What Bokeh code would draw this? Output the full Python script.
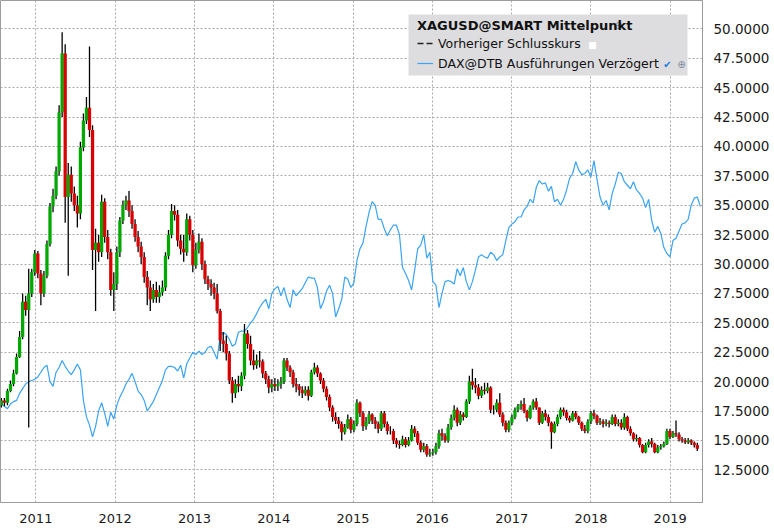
import pandas as pd
from bokeh.plotting import figure
from bokeh.models import (Range1d, FixedTicker, DatetimeTickFormatter, NumeralTickFormatter,
                          Legend, LegendItem, Label, BoxAnnotation)
from bokeh.embed import file_html
from bokeh.resources import INLINE

# ---------------- data ----------------
period_start = "2010-07-26"      # first candle, two-week candles
silver_first_open = 18.0
silver_close = [
    18.4, 18.2, 19.2, 19.8, 20.7, 22.1, 23.8, 26.8, 26.1, 27.5,
    29.3, 30.9, 29.2, 27.5, 29.0, 31.7, 34.9, 35.8, 37.9, 42.9,
    47.9, 35.7, 37.6, 36.0, 35.0, 34.3, 39.9, 42.2, 43.3, 41.4,
    31.2, 31.8, 31.0, 35.3, 32.3, 31.0, 27.8, 28.3, 31.0, 33.7,
    35.0, 35.4, 34.5, 33.4, 32.3, 31.5, 30.6, 28.9, 28.0, 27.0,
    27.8, 27.2, 27.6, 28.0, 30.7, 32.5, 34.5, 34.2, 32.0, 31.3,
    31.0, 33.8, 32.5, 29.9, 31.2, 31.9, 30.0, 28.7, 28.3, 28.0,
    27.5, 26.0, 23.5, 23.2, 22.4, 20.1, 19.0, 19.8, 19.6, 20.5,
    24.1, 23.2, 21.8, 21.4, 21.8, 21.7, 20.7, 20.2, 19.5, 19.8,
    19.6, 19.8, 20.0, 21.8, 21.2, 20.8, 19.8, 19.6, 19.3, 19.0,
    19.3, 18.8, 20.8, 21.2, 20.7, 20.1, 19.4, 18.7, 17.8, 17.0,
    16.7, 16.4, 15.7, 16.1, 16.8, 15.9, 16.4, 18.2, 17.3, 16.2,
    16.6, 17.2, 16.7, 16.4, 16.0, 17.3, 16.4, 15.8, 15.8, 15.0,
    14.7, 14.6, 15.1, 14.6, 15.0, 16.0, 15.6, 14.8, 14.2, 14.5,
    13.8, 13.9, 14.0, 14.5, 15.6, 15.4, 15.0, 16.1, 16.9, 17.6,
    16.5, 17.2, 17.0, 18.3, 20.0, 19.7, 19.5, 18.8, 19.3, 19.2,
    19.5, 17.6, 17.6, 18.2, 17.2, 16.5, 15.9, 16.5, 17.0, 17.6,
    17.9, 18.1, 17.5, 16.9, 17.8, 18.3, 17.8, 16.5, 17.3, 17.0,
    16.5, 15.7, 16.4, 17.0, 17.6, 17.4, 16.9, 16.7, 17.3, 17.0,
    16.5, 16.0, 15.8, 16.6, 17.3, 17.1, 16.5, 16.6, 16.4, 16.5,
    16.4, 17.0, 16.4, 16.5, 16.1, 17.0, 16.0, 15.6, 15.1, 15.2,
    14.6, 14.0, 14.6, 14.9, 14.7, 14.0, 14.4, 14.5, 14.7, 15.8,
    15.3, 15.6, 15.5, 15.1, 15.0, 14.85, 15.0, 14.8, 14.6, 14.3,
]
silver_high = [
    18.6, 18.6, 19.4, 20.1, 21.0, 22.4, 24.3, 27.5, 27.3, 29.6,
    29.6, 31.2, 31.1, 29.5, 29.4, 32.0, 35.2, 36.4, 38.3, 43.5,
    49.7, 48.7, 38.6, 38.3, 36.6, 35.8, 40.4, 42.8, 44.2, 48.5,
    41.8, 33.0, 32.5, 35.9, 35.6, 32.9, 31.3, 29.3, 31.5, 34.0,
    35.4, 35.8, 36.2, 35.0, 33.8, 32.8, 31.9, 31.0, 29.4, 28.6,
    28.3, 28.5, 28.2, 28.6, 31.0, 32.9, 35.1, 35.0, 34.6, 32.5,
    32.5, 34.3, 34.1, 32.9, 31.8, 32.6, 32.2, 30.3, 29.0, 28.7,
    28.4, 28.3, 26.2, 24.2, 23.9, 22.6, 20.4, 20.2, 20.5, 20.8,
    24.9, 24.4, 23.9, 22.7, 22.3, 22.6, 21.9, 20.9, 20.5, 20.2,
    20.3, 20.2, 20.4, 22.0, 22.0, 21.4, 21.0, 20.3, 19.8, 19.6,
    19.6, 19.6, 21.0, 21.6, 21.4, 20.8, 20.3, 19.6, 18.9, 18.0,
    17.4, 17.0, 16.6, 16.4, 17.2, 17.0, 16.7, 18.5, 18.3, 17.5,
    17.0, 17.5, 17.3, 17.0, 16.6, 17.5, 17.5, 16.6, 16.2, 16.0,
    15.2, 15.0, 15.4, 15.3, 15.3, 16.3, 16.2, 15.8, 15.0, 14.8,
    14.7, 14.3, 14.3, 14.8, 15.9, 16.0, 15.6, 16.4, 17.2, 18.0,
    17.8, 17.5, 17.4, 18.5, 20.5, 21.1, 20.3, 19.8, 19.6, 19.9,
    19.9, 19.6, 18.0, 18.5, 19.0, 17.4, 16.7, 16.7, 17.2, 17.8,
    18.1, 18.4, 18.6, 17.6, 18.0, 18.5, 18.6, 17.8, 17.5, 17.6,
    17.2, 16.6, 16.6, 17.2, 17.8, 17.8, 17.6, 17.1, 17.5, 17.5,
    17.1, 16.6, 16.3, 16.8, 17.5, 17.6, 17.2, 16.9, 16.8, 16.8,
    16.7, 17.2, 17.2, 16.8, 16.8, 17.3, 17.1, 16.2, 15.7, 15.5,
    15.3, 14.7, 14.8, 15.1, 15.2, 14.8, 14.6, 14.7, 14.9, 16.0,
    16.0, 15.8, 16.7, 15.7, 15.3, 15.2, 15.2, 15.1, 14.9, 14.8,
]
silver_low = [
    17.8, 17.9, 18.0, 19.1, 19.6, 20.6, 22.0, 23.6, 25.6, 16.1,
    27.2, 29.0, 28.8, 26.5, 27.2, 28.8, 31.5, 34.4, 35.5, 37.5,
    42.5, 33.5, 29.0, 35.3, 34.5, 33.1, 33.8, 39.6, 41.9, 40.8,
    29.5, 26.0, 30.2, 30.6, 31.8, 30.4, 27.3, 26.0, 27.8, 30.6,
    33.4, 34.6, 34.0, 33.0, 31.9, 31.0, 30.0, 28.4, 26.5, 26.0,
    26.7, 26.7, 26.7, 27.3, 27.7, 30.4, 32.2, 33.7, 31.5, 30.8,
    30.2, 30.7, 32.0, 29.3, 29.6, 30.9, 29.5, 28.3, 27.8, 27.3,
    27.0, 25.8, 22.6, 22.5, 21.8, 19.8, 18.2, 18.6, 19.1, 19.2,
    20.2, 22.8, 21.4, 21.0, 21.1, 21.2, 20.3, 19.8, 19.0, 19.1,
    19.2, 19.2, 19.4, 19.8, 20.9, 20.4, 19.5, 19.1, 18.8, 18.6,
    18.8, 18.4, 18.7, 20.6, 20.4, 19.8, 19.1, 18.4, 17.5, 16.6,
    16.4, 16.0, 15.0, 15.5, 16.0, 15.6, 15.7, 16.2, 17.0, 15.8,
    15.9, 16.4, 16.4, 16.0, 15.6, 15.8, 16.1, 15.5, 15.5, 14.7,
    14.4, 14.3, 14.5, 14.4, 14.5, 14.9, 15.3, 14.6, 14.0, 14.0,
    13.6, 13.6, 13.7, 13.8, 14.3, 15.0, 14.8, 14.8, 15.9, 16.7,
    16.2, 16.3, 16.7, 16.9, 18.1, 19.3, 19.0, 18.5, 18.6, 18.9,
    19.0, 17.3, 17.2, 17.4, 17.0, 16.2, 15.7, 15.7, 16.3, 16.8,
    17.4, 17.6, 17.3, 16.6, 16.8, 17.6, 17.6, 16.3, 16.4, 16.7,
    16.2, 14.3, 15.6, 16.2, 16.8, 17.1, 16.7, 16.5, 16.6, 16.8,
    16.3, 15.8, 15.6, 15.6, 16.4, 16.8, 16.3, 16.3, 16.1, 16.2,
    16.1, 16.3, 16.2, 16.2, 15.9, 15.9, 15.8, 15.4, 14.9, 14.9,
    14.4, 13.9, 13.9, 14.4, 14.4, 13.9, 13.9, 14.2, 14.4, 14.6,
    15.1, 15.2, 15.3, 14.9, 14.8, 14.7, 14.7, 14.6, 14.4, 14.1,
]
# DAX overlay, as drawn on the chart's price scale
dax_line = [
    18.1, 17.9, 17.7, 18.1, 18.3, 18.4, 19.0, 19.4, 19.8, 20.0,
    20.1, 20.2, 20.4, 20.8, 21.2, 21.4, 20.0, 19.6, 20.8, 21.2,
    21.8, 21.3, 20.9, 20.6, 21.0, 21.5, 21.0, 18.4, 17.0, 16.3,
    15.3, 16.2, 17.5, 18.2, 17.3, 16.2, 17.4, 16.8, 18.0, 18.7,
    19.2, 19.8, 20.2, 20.7, 20.0, 19.2, 18.9, 18.4, 17.5, 17.9,
    18.3, 18.9, 19.5, 20.1, 21.0, 21.3, 21.3, 21.2, 20.9, 21.4,
    20.3, 21.5, 22.0, 22.5, 22.3, 22.6, 22.3, 22.5, 22.9, 23.0,
    22.5, 21.9, 23.9, 24.2, 24.0, 23.6, 23.0, 23.2, 24.2, 24.3,
    24.3, 24.6, 25.0, 25.3, 25.8, 26.3, 26.7, 27.0, 26.2, 27.5,
    27.9, 28.1, 27.3, 28.0, 27.0, 26.3, 27.8, 27.3, 27.6, 27.9,
    28.4, 28.9, 28.8, 28.8, 28.0, 26.2, 26.8, 27.7, 28.2, 27.5,
    25.5, 26.2, 27.0, 28.9, 28.7, 28.0, 28.4, 30.3, 31.3, 31.8,
    33.2, 34.4, 35.3, 35.0, 33.8, 33.8, 33.0, 32.4, 32.9, 33.3,
    33.3, 32.5, 29.7, 29.2, 28.6, 27.8, 29.5, 31.3, 31.6, 32.5,
    30.5, 31.0, 28.5, 28.2, 26.3, 27.5, 28.5, 28.6, 28.5, 28.3,
    29.6, 29.0, 29.7, 28.5, 27.8, 28.5, 29.5, 30.6, 30.8, 30.6,
    30.5, 31.0, 30.8, 30.3, 30.6, 30.8, 32.0, 33.1, 33.4, 33.6,
    34.0, 34.0, 34.6, 34.9, 35.5, 35.2, 36.5, 37.1, 36.8, 36.9,
    36.2, 36.6, 35.3, 35.5, 35.0, 35.5, 36.3, 37.3, 37.7, 38.7,
    38.0, 37.6, 37.7, 38.0, 37.4, 38.8, 37.2, 35.7, 35.0, 35.4,
    34.6, 36.0, 36.8, 37.8, 37.7, 37.0, 36.7, 36.4, 37.0, 36.3,
    36.0, 35.6, 34.8, 35.5, 33.7, 32.7, 33.2, 32.6, 31.4, 30.9,
    30.6, 32.0, 32.2, 32.8, 33.4, 33.5, 33.8, 35.0, 35.6, 35.7,
    34.9,
]
year_ticks = [2011, 2012, 2013, 2014, 2015, 2016, 2017, 2018, 2019]
price_ticks = [12.5, 15.0, 17.5, 20.0, 22.5, 25.0, 27.5, 30.0, 32.5,
               35.0, 37.5, 40.0, 42.5, 45.0, 47.5, 50.0]

# ---------------- derived ----------------
dates = pd.date_range(period_start, periods=len(dax_line), freq="14D")
cdates = dates[:len(silver_close)]
silver_open = [silver_first_open] + silver_close[:-1]
body_top = [max(o, c) for o, c in zip(silver_open, silver_close)]
body_bot = [min(o, c) for o, c in zip(silver_open, silver_close)]
body_col = ["#00a800" if c >= o else "#d80000" for o, c in zip(silver_open, silver_close)]

FONT = "DejaVu Sans"
GRID = "#a8a8a8"
BORDER = "#9c9c9c"

p = figure(width=774, height=530, x_axis_type="datetime", y_axis_location="right",
           output_backend="svg", toolbar_location=None,
           x_range=Range1d(pd.Timestamp("2010-07-22"), pd.Timestamp("2019-05-30")),
           y_range=Range1d(9.72, 52.41),
           min_border_left=0, min_border_top=0, min_border_right=72, min_border_bottom=28)
p.background_fill_color = "white"
p.border_fill_color = "white"
p.outline_line_color = BORDER

# grid
p.xgrid.grid_line_color = GRID
p.ygrid.grid_line_color = GRID
p.xgrid.grid_line_dash = "2 2"
p.ygrid.grid_line_dash = "2 2"

# axes
p.xaxis.ticker = FixedTicker(ticks=[pd.Timestamp(f"{y}-01-01").value / 1e6 for y in year_ticks])
p.xaxis.formatter = DatetimeTickFormatter(years="%Y", months="%Y", days="%Y", hours="%Y")
p.yaxis.ticker = FixedTicker(ticks=price_ticks)
p.yaxis.formatter = NumeralTickFormatter(format="0.0000")
for ax in (p.xaxis, p.yaxis):
    ax.axis_line_color = BORDER
    ax.major_tick_line_color = None
    ax.minor_tick_line_color = None
    ax.major_label_text_font = FONT
    ax.major_label_text_color = "#1a1a1a"
p.xaxis.major_label_text_font_size = "13px"
p.yaxis.major_label_text_font_size = "13.5px"
p.xaxis.major_label_standoff = 5
p.yaxis.major_label_standoff = 5

# DAX line
r_dax = p.line(dates, dax_line, line_color="#3aa3f2", line_width=1.2)

# candles
p.segment(x0=cdates, y0=silver_low, x1=cdates, y1=silver_high, line_color="black", line_width=1.3)
p.vbar(x=cdates, width=15 * 24 * 3600 * 1000, top=body_top, bottom=body_bot,
       fill_color=body_col, line_color=None)

# legend (the previous-close line is a legend entry only: its values are NaN)
r_prev = p.line(x=cdates[:2], y=[float("nan"), float("nan")],
                line_color="#222222", line_dash="6 3", line_width=1.5)
box = BoxAnnotation(left=408, right=687, bottom=502 - 75, top=502 - 14,
                    left_units="screen", right_units="screen",
                    bottom_units="screen", top_units="screen",
                    fill_color="#dddde0", fill_alpha=1, line_color=None, level="annotation")
p.add_layout(box)
legend = Legend(items=[LegendItem(label="Vorheriger Schlusskurs", renderers=[r_prev]),
                       LegendItem(label="DAX@DTB Ausführungen Verzögert", renderers=[r_dax])],
                title="XAGUSD@SMART Mittelpunkt", location=(417, 502 - 73),
                padding=0, spacing=0, margin=0, label_height=20, glyph_height=20,
                glyph_width=16, label_standoff=5, title_standoff=0,
                background_fill_alpha=0, border_line_color=None,
                title_text_font=FONT, title_text_font_style="bold", title_text_font_size="13px",
                title_text_color="#111111",
                label_text_font=FONT, label_text_font_size="12.5px", label_text_color="#111111")
p.add_layout(legend)

def icon(x, y, t, color, size):
    p.add_layout(Label(x=x, y=502 - y, x_units="screen", y_units="screen", text=t,
                       text_color=color, text_font=FONT, text_font_size=size,
                       text_baseline="middle", text_align="center"))

icon(618, 25, "⊕", "#7d8aa0", "10px")
icon(592, 44, "■", "#ffffff", "9px")
icon(667, 64, "✔", "#1e7fe0", "10px")
icon(681, 64, "⊕", "#7d8aa0", "10px")

open("out.html", "w").write(file_html(p, INLINE))
